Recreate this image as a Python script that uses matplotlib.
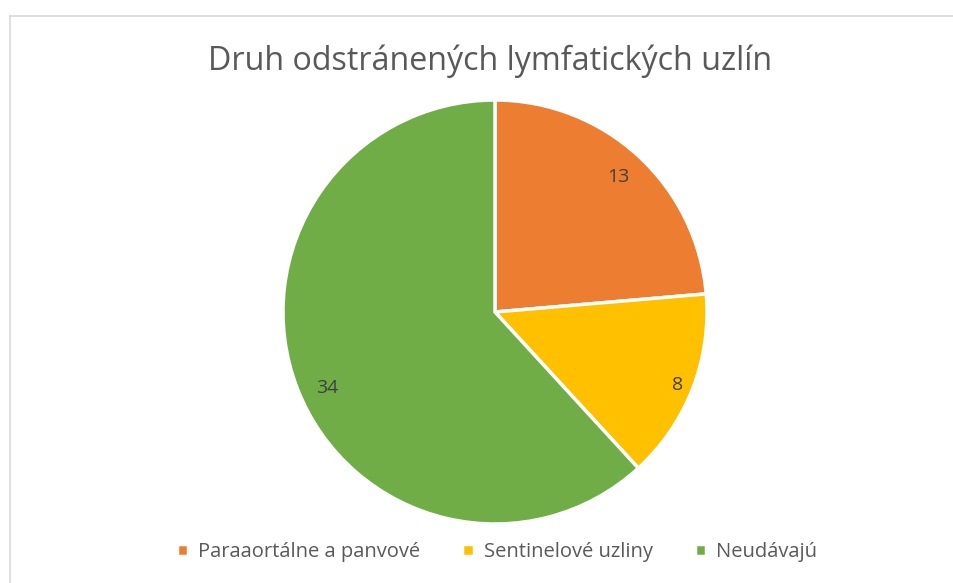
import matplotlib.pyplot as plt
from matplotlib.lines import Line2D

categories = ['Paraaortálne a panvové', 'Sentinelové uzliny', 'Neudávajú']
values = [13, 8, 34]
colors = ['#ED7D31', '#FFC000', '#70AD47']
title = 'Druh odstránených lymfatických uzlín'

plt.rcParams['font.family'] = ['Open Sans', 'DejaVu Sans']
text_color = '#595959'

W, H = 954, 583
fig = plt.figure(figsize=(W / 100, H / 100), dpi=100)

# chart frame (partly cut off on the right and bottom)
fig.add_artist(Line2D([10.5 / W, 10.5 / W], [0, 1 - 15.5 / H], color='#D9D9D9', lw=1.2))
fig.add_artist(Line2D([10.5 / W, 1], [1 - 15.5 / H, 1 - 15.5 / H], color='#D9D9D9', lw=1.2))

cx, cy, r = 495, 312, 212
ax = fig.add_axes([(cx - r) / W, (H - cy - r) / H, 2 * r / W, 2 * r / H])
wedges, texts, autotexts = ax.pie(
    values, colors=colors, startangle=90, counterclock=False,
    autopct=lambda p: f'{p * sum(values) / 100:.0f}', pctdistance=0.87,
    wedgeprops=dict(edgecolor='white', linewidth=2.5),
    textprops=dict(color='#404040', fontsize=14))
ax.set_xlim(-1, 1)
ax.set_ylim(-1, 1)
ax.set_aspect('equal')
ax.axis('off')
# label placement as in the original (Excel "best fit")
for t, pos in zip(autotexts, [(0.58, 0.635), (0.86, -0.345), (-0.79, -0.36)]):
    t.set_position(pos)

fig.text(490 / W, 1 - 61 / H, title, ha='center', va='center', fontsize=23.2, color=text_color)

fig.legend(wedges, categories, loc='center', bbox_to_anchor=(497 / W, 1 - 552 / H), ncol=3,
           frameon=False, fontsize=14.5, labelcolor=text_color, handlelength=0.55, handleheight=0.55,
           handletextpad=0.5, columnspacing=2.1)

fig.savefig('out.png', dpi=100)
